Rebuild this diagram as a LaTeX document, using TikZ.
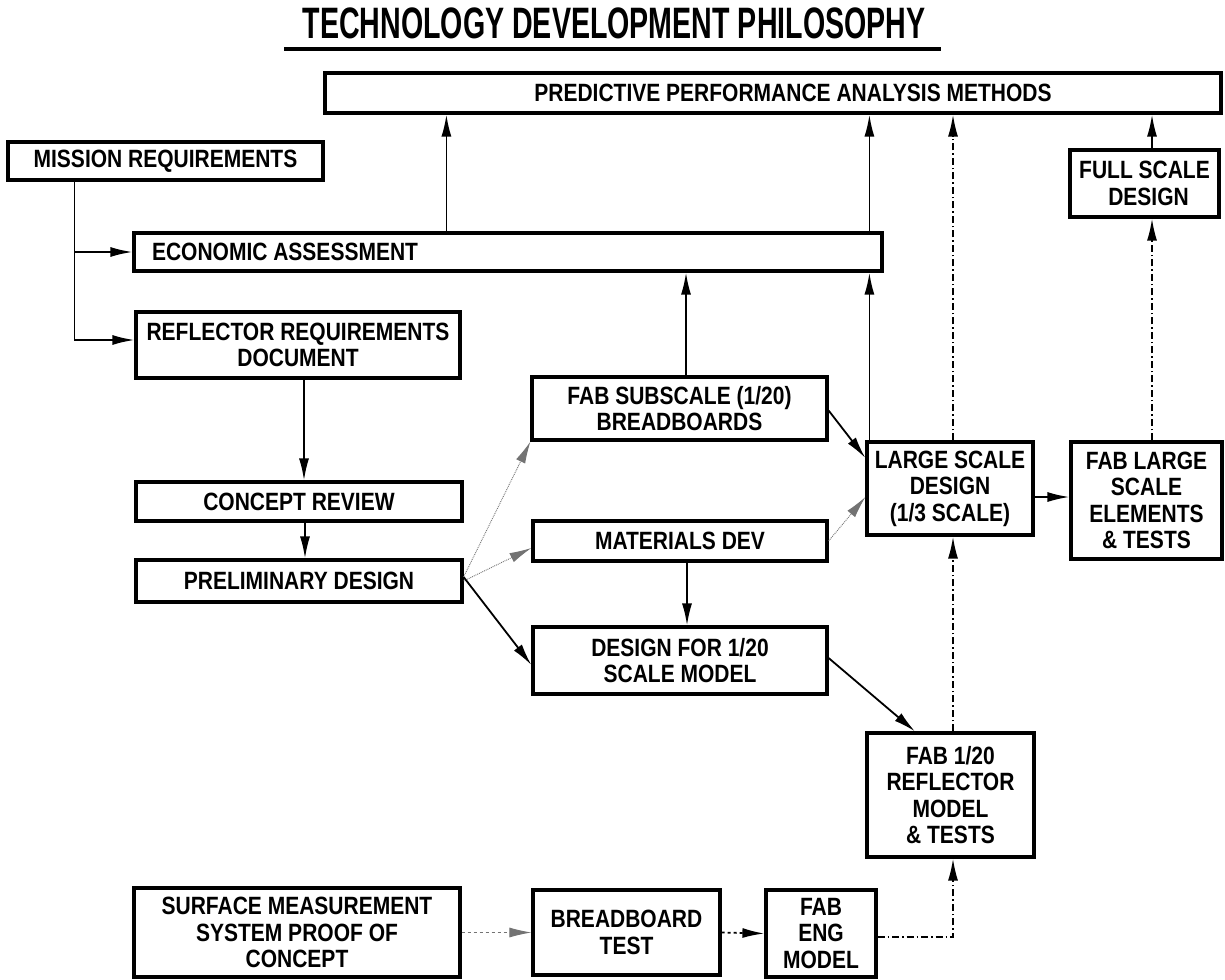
\documentclass[tikz,border=0pt]{standalone}
\usepackage{fontspec}
\newfontfamily\boxfont{Liberation Sans}[FakeStretch=0.84]
\newfontfamily\titlefont{Liberation Sans}[FakeStretch=0.65]
\usetikzlibrary{arrows.meta}

\tikzset{
  blk/.style={draw, line width=3.2pt, inner sep=0pt, align=center,
    font=\boxfont\bfseries\fontsize{25}{26.5}\selectfont},
  arr/.style={line width=1.8pt, -{Latex[length=22pt,width=10pt]}},
  dashdot/.style={dash pattern=on 7pt off 3pt on 1.5pt off 3pt},
  faint/.style={black!55, line width=0.9pt, densely dotted},
}

\begin{document}
\begin{tikzpicture}[x=1pt,y=-1pt]
\path[use as bounding box,fill=white] (0,0) rectangle (1225,979);

% title
\node[inner sep=0pt, font=\titlefont\bfseries\fontsize{44}{44}\selectfont] (title) at (614,23) {TECHNOLOGY DEVELOPMENT PHILOSOPHY};
\draw[line width=3.5pt] ([xshift=-18pt,yshift=-10pt]title.south west) -- ([xshift=15pt,yshift=-10pt]title.south east);

% boxes
\node[blk, minimum width=896pt, minimum height=40pt] (ppam) at (773,93) {\hspace*{40pt}PREDICTIVE PERFORMANCE ANALYSIS METHODS};
\node[blk, minimum width=315pt, minimum height=38pt] (mission) at (165.5,161) {MISSION REQUIREMENTS};
\node[blk, minimum width=149pt, minimum height=67pt] (full) at (1144.5,183.5) {FULL SCALE\\\hspace*{8pt}DESIGN};
\node[blk, text width=712pt, inner xsep=18pt, align=flush left, minimum height=38pt] (econ) at (508,252) {ECONOMIC ASSESSMENT};
\node[blk, minimum width=324pt, minimum height=66pt] (refl) at (298,345) {REFLECTOR REQUIREMENTS\\DOCUMENT};
\node[blk, minimum width=295pt, minimum height=63pt] (fabsub) at (679.5,408.5) {FAB SUBSCALE (1/20)\\BREADBOARDS};
\node[blk, minimum width=326pt, minimum height=39pt] (concept) at (299,501.5) {CONCEPT REVIEW};
\node[blk, minimum width=166pt, minimum height=93pt] (large) at (950,488.5) {LARGE SCALE\\DESIGN\\(1/3 SCALE)};
\node[blk, minimum width=151pt, minimum height=117pt] (fablarge) at (1146.5,500.5) {FAB LARGE\\SCALE\\ELEMENTS\\\& TESTS};
\node[blk, minimum width=294pt, minimum height=40pt] (matdev) at (680,541) {MATERIALS DEV};
\node[blk, minimum width=326pt, minimum height=42pt] (prelim) at (299,581) {PRELIMINARY DESIGN};
\node[blk, minimum width=294pt, minimum height=67pt] (des20) at (680,660.5) {DESIGN FOR 1/20\\SCALE MODEL};
\node[blk, minimum width=167pt, minimum height=124pt] (fab20) at (950.5,795) {FAB 1/20\\REFLECTOR\\MODEL\\\& TESTS};
\node[blk, minimum width=326pt, minimum height=89pt] (surf) at (297,932.5) {SURFACE MEASUREMENT\\SYSTEM PROOF OF\\CONCEPT};
\node[blk, minimum width=187pt, minimum height=85pt] (bread) at (626.5,932.5) {BREADBOARD\\TEST};
\node[blk, minimum width=110pt, minimum height=87pt] (fabeng) at (821,933.5) {FAB\\ENG\\MODEL};

% tap points
\coordinate (mtap) at ([xshift=68pt]mission.south west);
\coordinate (e1) at ([xshift=314pt]econ.north west);
\coordinate (l1) at ([xshift=4pt]large.north west);
\coordinate (e2) at (l1 |- econ.north);
\coordinate (f1) at ([xshift=6.5pt]fabsub.north);
\coordinate (l2) at ([xshift=3pt]large.north);
\coordinate (u1) at ([xshift=7.5pt]full.north);
\coordinate (u2) at ([xshift=5.5pt]fablarge.north);
\coordinate (r1) at ([xshift=6pt]refl.south);
\coordinate (c1) at ([xshift=6pt]concept.south);
\coordinate (m1) at ([xshift=7pt]matdev.south);
\coordinate (t1) at ([xshift=2.5pt]fab20.north);
\coordinate (b1) at ([xshift=2.5pt]fab20.south);

% connectors
\draw[arr] (mtap) |- (econ.west);
\draw[arr] (mtap) |- ([yshift=5pt]refl.west);
\draw[arr] (e1) -- (e1 |- ppam.south);
\draw[arr] (l1) -- (l1 |- econ.south);
\draw[arr] (e2) -- (e2 |- ppam.south);
\draw[arr] (f1) -- (f1 |- econ.south);
\draw[arr, dashdot] (l2) -- (l2 |- ppam.south);
\draw[arr] (u1) -- (u1 |- ppam.south);
\draw[arr, dashdot] (u2) -- (u2 |- full.south);
\draw[arr] (r1) -- (r1 |- concept.north);
\draw[arr] (c1) -- (c1 |- prelim.north);
\draw[arr, faint] ([yshift=4pt]prelim.east) -- (fabsub.south west);
\draw[arr, faint] (prelim.east) -- ([yshift=-7pt]matdev.west);
\draw[arr] ([yshift=4pt]prelim.east) -- ([yshift=-4.5pt]des20.west);
\draw[arr] ([yshift=-2pt]fabsub.east) -- ([yshift=30.5pt]large.west);
\draw[arr, faint] (matdev.east) -- ([yshift=-8.5pt]large.west);
\draw[arr] ([yshift=-8.5pt]large.east) -- ([yshift=-8.5pt]large.east -| fablarge.west);
\draw[arr] (m1) -- (m1 |- des20.north);
\draw[arr] ([yshift=2.5pt]des20.east) -- ([xshift=-35.5pt]fab20.north);
\draw[arr, dashdot] (t1) -- (t1 |- large.south);
\draw[arr, faint, dashed] (surf.east) -- (bread.west);
\draw[arr, dashed] (bread.east) -- (fabeng.west);
\draw[arr, dashdot] ([yshift=-3.5pt]fabeng.east) -| (b1);
\end{tikzpicture}
\end{document}
